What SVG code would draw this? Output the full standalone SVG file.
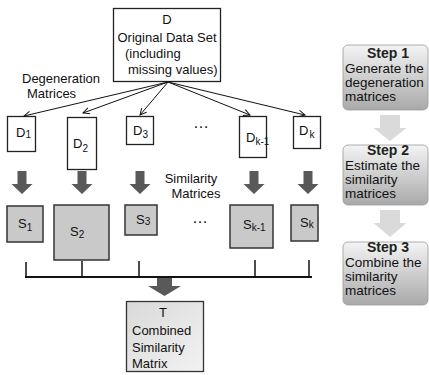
<svg xmlns="http://www.w3.org/2000/svg" width="429" height="375" viewBox="0 0 429 375">
<defs>
<linearGradient id="gStep" x1="0" y1="0" x2="0" y2="1">
<stop offset="0" stop-color="#f4f4f4"/>
<stop offset="1" stop-color="#a9a9a9"/>
</linearGradient>
<linearGradient id="gT" x1="0" y1="0" x2="1" y2="1">
<stop offset="0" stop-color="#d9d9d9"/>
<stop offset="1" stop-color="#f2f2f2"/>
</linearGradient>
<marker id="open" viewBox="0 0 10 10" refX="9" refY="5" markerWidth="8" markerHeight="8" markerUnits="userSpaceOnUse" orient="auto">
<path d="M1,1 L9,5 L1,9" fill="none" stroke="#111" stroke-width="1.2"/>
</marker>
</defs>
<style>
text{font-family:"Liberation Sans",Arial,sans-serif;font-size:13px;fill:#111}
.sub{font-size:10px}
.dbox{fill:#fff;stroke:#222;stroke-width:1.3}
.sbox{fill:#c9c9c9;stroke:#333;stroke-width:1.5}
.tbox{fill:url(#gT);stroke:#333;stroke-width:1.3}
.step{fill:url(#gStep);stroke:#9a9a9a;stroke-width:0.8}
.stxt{font-size:13.5px}
.shead{font-family:"Liberation Sans",Arial,sans-serif;font-size:14px;font-weight:bold;fill:#222}
.blk{fill:#595959}
.lblk{fill:#dadada}
.ln{stroke:#111;stroke-width:1;fill:none}
.bar{stroke:#111;stroke-width:2;fill:none}
.tick{stroke:#111;stroke-width:1.5;fill:none}
</style>

<g id="connectors">
<line class="ln" x1="168" y1="82" x2="24" y2="116" marker-end="url(#open)"/>
<line class="ln" x1="168" y1="82" x2="83" y2="113" marker-end="url(#open)"/>
<line class="ln" x1="168" y1="82" x2="140" y2="115" marker-end="url(#open)"/>
<line class="ln" x1="168" y1="82" x2="250" y2="115" marker-end="url(#open)"/>
<line class="ln" x1="168" y1="82" x2="305" y2="115" marker-end="url(#open)"/>
<path class="blk" d="M17.5,171 h9 v13 h6 l-10.5,10 l-10.5,-10 h6 z"/>
<path class="blk" d="M77.5,171 h9 v13 h6 l-10.5,10 l-10.5,-10 h6 z"/>
<path class="blk" d="M135.5,171 h9 v13 h6 l-10.5,10 l-10.5,-10 h6 z"/>
<path class="blk" d="M249.5,171 h9 v13 h6 l-10.5,10 l-10.5,-10 h6 z"/>
<path class="blk" d="M303.5,171 h9 v13 h6 l-10.5,10 l-10.5,-10 h6 z"/>
<line class="tick" x1="26" y1="262" x2="26" y2="277"/>
<line class="tick" x1="82" y1="261" x2="82" y2="277"/>
<line class="tick" x1="139" y1="261" x2="139" y2="277"/>
<line class="tick" x1="255" y1="260" x2="255" y2="277"/>
<line class="tick" x1="309" y1="260" x2="309" y2="277"/>
<line class="bar" x1="25" y1="277" x2="312" y2="277"/>
<path class="blk" d="M157,278 h15 v8 h9 l-16.5,10 l-16.5,-10 h9 z"/>
<path class="lblk" d="M380,115 h20 v13 h6.5 l-16.5,13 l-16.5,-13 h6.5 z"/>
<path class="lblk" d="M380,210 h20 v13 h6.5 l-16.5,14 l-16.5,-14 h6.5 z"/>
</g>

<g id="D">
<rect class="dbox" x="113.5" y="8.5" width="107" height="73"/>
<text x="167" y="24" text-anchor="middle">D</text>
<text x="167" y="42" text-anchor="middle">Original Data Set</text>
<text x="125" y="58">(including</text>
<text x="128" y="74">missing values)</text>
</g>

<text x="22" y="83">Degeneration</text>
<text x="27" y="98">Matrices</text>

<g id="D1"><rect class="dbox" x="7.5" y="116.5" width="28" height="35"/><text x="16" y="137">D<tspan class="sub" dy="1">1</tspan></text></g>
<g id="D2"><rect class="dbox" x="67.5" y="117.5" width="29" height="52"/><text x="73" y="148">D<tspan class="sub" dy="4">2</tspan></text></g>
<g id="D3"><rect class="dbox" x="126.5" y="116.5" width="27" height="28"/><text x="133" y="135">D<tspan class="sub" dy="3">3</tspan></text></g>
<text x="201" y="128" text-anchor="middle" style="font-size:16px">…</text>
<g id="Dk-1"><rect class="dbox" x="239.5" y="116.5" width="27" height="41"/><text x="246" y="142">D<tspan class="sub" dy="3">k-1</tspan></text></g>
<g id="Dk"><rect class="dbox" x="293.5" y="116.5" width="27" height="32"/><text x="299" y="135">D<tspan class="sub" dx="1" dy="3">k</tspan></text></g>

<text x="191" y="183" text-anchor="middle">Similarity</text>
<text x="196" y="198" text-anchor="middle">Matrices</text>

<g id="S1"><rect class="sbox" x="7" y="206" width="36" height="36"/><text x="18" y="228">S<tspan class="sub" dy="3">1</tspan></text></g>
<g id="S2"><rect class="sbox" x="54" y="205" width="55" height="55"/><text x="70" y="236">S<tspan class="sub" dy="2">2</tspan></text></g>
<g id="S3"><rect class="sbox" x="125" y="205" width="32" height="30"/><text x="136" y="224">S<tspan class="sub" dy="1">3</tspan></text></g>
<text x="200" y="223" text-anchor="middle" style="font-size:16px">…</text>
<g id="Sk-1"><rect class="sbox" x="230" y="205" width="43" height="43"/><text x="243" y="229">S<tspan class="sub" dy="2">k-1</tspan></text></g>
<g id="Sk"><rect class="sbox" x="291" y="205" width="27" height="36"/><text x="300" y="227">S<tspan class="sub" dy="1">k</tspan></text></g>

<g id="T">
<rect class="tbox" x="126.5" y="301.5" width="77" height="70"/>
<text x="163" y="317" text-anchor="middle">T</text>
<text x="132" y="335">Combined</text>
<text x="132" y="352">Similarity</text>
<text x="132" y="368">Matrix</text>
</g>

<g id="step1">
<rect class="step" x="343" y="45" width="85" height="65" rx="5"/>
<text class="shead" x="388" y="58" text-anchor="middle">Step 1</text>
<text class="stxt" x="345" y="73">Generate the</text>
<text class="stxt" x="345" y="87">degeneration</text>
<text class="stxt" x="345" y="101">matrices</text>
</g>
<g id="step2">
<rect class="step" x="343" y="145" width="85" height="60" rx="5"/>
<text class="shead" x="388" y="155" text-anchor="middle">Step 2</text>
<text class="stxt" x="345" y="169.5">Estimate the</text>
<text class="stxt" x="345" y="183.5">similarity</text>
<text class="stxt" x="345" y="197.5">matrices</text>
</g>
<g id="step3">
<rect class="step" x="343" y="242" width="85" height="63" rx="5"/>
<text class="shead" x="388" y="252" text-anchor="middle">Step 3</text>
<text class="stxt" x="345" y="266.5">Combine the</text>
<text class="stxt" x="345" y="280.5">similarity</text>
<text class="stxt" x="345" y="294.5">matrices</text>
</g>
</svg>
